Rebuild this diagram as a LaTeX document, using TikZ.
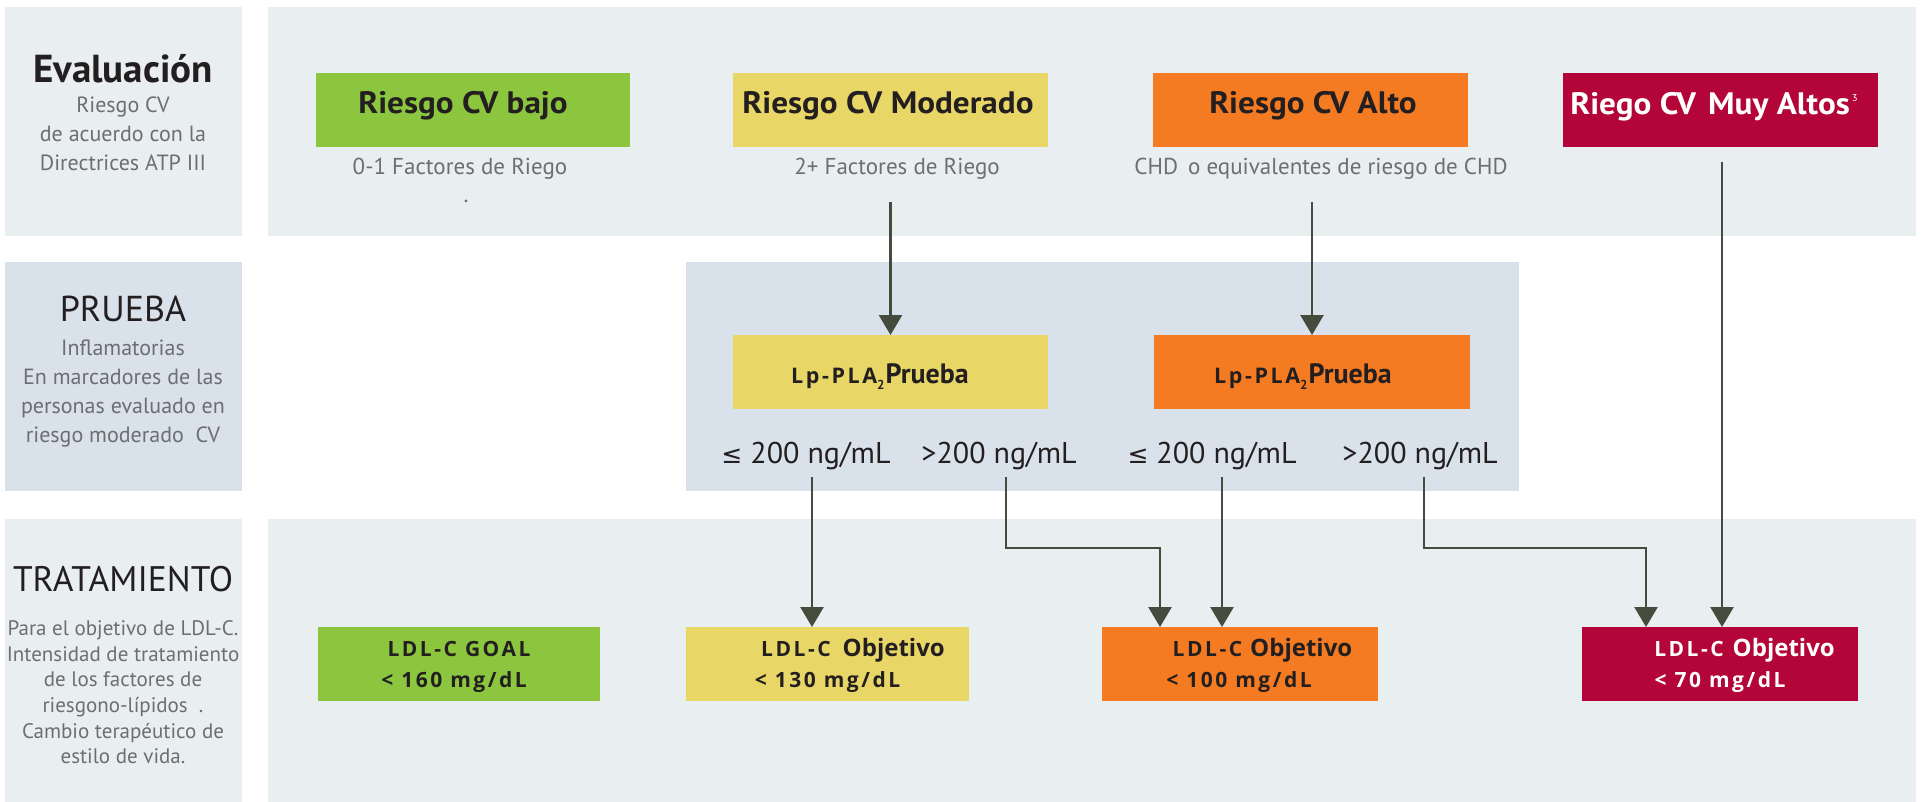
\documentclass[tikz,border=0pt]{standalone}
\usepackage{fontspec}
\setmainfont{PT Sans}
\newfontfamily\headfont[FakeStretch=1.07]{PT Sans}
\newfontfamily\ldlfont[LetterSpace=12]{Open Sans}
\newfontfamily\objfont{Open Sans}
\newfontfamily\symfont{DejaVu Sans}
\usetikzlibrary{arrows.meta}
\newcommand\setfs[2]{\fontsize{#1}{#2}\selectfont}
\definecolor{panel}{HTML}{E9EEF1}
\definecolor{panelB}{HTML}{D9E1EA}
\definecolor{cgreen}{HTML}{8CC63F}
\definecolor{cyellow}{HTML}{E8D666}
\definecolor{corange}{HTML}{F47B22}
\definecolor{cred}{HTML}{B30537}
\definecolor{ink}{HTML}{231F20}
\definecolor{txtgray}{HTML}{6D6E71}
\definecolor{arrowc}{HTML}{454C3D}
\tikzset{
  arr/.style={draw=arrowc, line width=2.6pt, line join=miter, -{Triangle[width=23pt,length=20pt]}},
  boxst/.style={minimum height=74pt, inner sep=0pt, outer sep=0pt},
  txt/.style={inner sep=0pt, outer sep=0pt, anchor=base},
  lefthead/.style={txt, font=\setfs{36}{40}, text=ink},
  leftsub/.style={txt, font=\setfs{22}{26}, text=txtgray},
  toplbl/.style={txt, font=\headfont\setfs{31}{34}\bfseries, text=ink},
  sublbl/.style={txt, font=\setfs{23}{26}, text=txtgray},
  thr/.style={txt, font=\setfs{30}{34}, text=ink},
  ldl/.style={txt, font=\ldlfont\bfseries\setfs{21}{24}, text=ink},
  lpl/.style={txt, font=\setfs{28}{30}\bfseries, text=ink}
}
\newcommand\objw{{\objfont\bfseries\setfs{24}{26}Objetivo}}
\newcommand\lpw{{\ldlfont\bfseries\setfs{21.5}{24}Lp-PLA}\raisebox{-6pt}{\setfs{13}{13}\bfseries 2}\hspace{1pt}Prueba}
\newcommand\lea{{\symfont\setfs{25}{28}≤}}
\begin{document}
\begin{tikzpicture}[x=1pt,y=-1pt]
\useasboundingbox (0,0) rectangle (1921,802);
\fill[white] (0,0) rectangle (1921,802);
% bands
\fill[panel] (5,7) rectangle (242,236);
\fill[panel] (268,7) rectangle (1916,236);
\fill[panelB] (5,262) rectangle (242,491);
\fill[panelB] (686,262) rectangle (1519,491);
\fill[panel] (5,519) rectangle (242,802);
\fill[panel] (268,519) rectangle (1916,802);
% left column texts
\node[lefthead, font=\setfs{39}{42}\bfseries] (evh) at (123,83) {Evaluación};
\node[leftsub] (ev1) at (123,113) {Riesgo CV};
\node[leftsub] (ev2) at (123,142) {de acuerdo con la};
\node[leftsub] (ev3) at (123,171) {Directrices ATP III};
\node[lefthead, font=\setfs{36}{40}] (prh) at (123,321) {PRUEBA};
\node[leftsub] (pr1) at (123,355) {Inflamatorias};
\node[leftsub] (pr2) at (123,384) {En marcadores de las};
\node[leftsub] (pr3) at (123,413) {personas evaluado en};
\node[leftsub] (pr4) at (123,442) {riesgo moderado\ \ CV};
\node[lefthead, font=\setfs{35.5}{40}] (trh) at (123,591) {TRATAMIENTO};
\node[leftsub, font=\setfs{21}{24}] (tr1) at (123,635) {Para el objetivo de LDL-C.};
\node[leftsub, font=\setfs{21}{24}] (tr2) at (123,661) {Intensidad de tratamiento};
\node[leftsub, font=\setfs{21}{24}] (tr3) at (123,686) {de los factores de};
\node[leftsub, font=\setfs{21}{24}] (tr4) at (123,712) {riesgono-lípidos\ \ .};
\node[leftsub, font=\setfs{21}{24}] (tr5) at (123,738) {Cambio terapéutico de};
\node[leftsub, font=\setfs{21}{24}] (tr6) at (123,763) {estilo de vida.};
% top risk boxes
\node[boxst, fill=cgreen, minimum width=314pt] (g1) at (473,110) {};
\node[boxst, fill=cyellow, minimum width=315pt] (y1) at (890.5,110) {};
\node[boxst, fill=corange, minimum width=315pt] (o1) at (1310.5,110) {};
\node[boxst, fill=cred, minimum width=315pt] (r1) at (1720.5,110) {};
\node[toplbl] (g1t) at (463,114) {Riesgo CV bajo};
\node[toplbl] (y1t) at (888,114) {Riesgo CV Moderado};
\node[toplbl] (o1t) at (1313,114) {Riesgo CV Alto};
\node[toplbl, text=white] (r1t) at (1714,115) {Riego CV\hspace{12pt}Muy Altos\hspace{2pt}\raisebox{13pt}{\mdseries\setfs{10}{10}3}};
\node[sublbl] (g1s) at (460,175) {0-1 Factores de Riego};
\node[sublbl] (g1d) at (466,203) {.};
\node[sublbl] (y1s) at (897,175) {2+ Factores de Riego};
\node[sublbl] (o1s) at (1321,175) {CHD\hspace{10pt}o equivalentes de riesgo de CHD};
% test boxes
\node[boxst, fill=cyellow, minimum width=315pt] (lp1) at (890.5,372) {};
\node[boxst, fill=corange, minimum width=316pt] (lp2) at (1312,372) {};
\node[lpl] (lp1t) at (880,383) {\lpw};
\node[lpl] (lp2t) at (1303,383) {\lpw};
\node[thr] (th1) at (806,463) {\lea\ 200 ng/mL};
\node[thr] (th2) at (999,463) {>200 ng/mL};
\node[thr] (th3) at (1212,463) {\lea\ 200 ng/mL};
\node[thr] (th4) at (1420,463) {>200 ng/mL};
% LDL goal boxes
\node[boxst, fill=cgreen, minimum width=282pt] (l1) at (459,664) {};
\node[boxst, fill=cyellow, minimum width=283pt] (l2) at (827.5,664) {};
\node[boxst, fill=corange, minimum width=276pt] (l3) at (1240,664) {};
\node[boxst, fill=cred, minimum width=276pt] (l4) at (1720,664) {};
\node[ldl] (l1a) at (459,656) {LDL-C GOAL};
\node[ldl] (l1b) at (454,687) {< 160 mg/dL};
\node[ldl] (l2a) at (853,656) {LDL-C\hspace{12pt}\objw};
\node[ldl] (l2b) at (827.5,687) {< 130 mg/dL};
\node[ldl] (l3a) at (1262.5,656) {LDL-C\hspace{8pt}\objw};
\node[ldl] (l3b) at (1239,687) {< 100 mg/dL};
\node[ldl, text=white] (l4a) at (1744.5,656) {LDL-C\hspace{9pt}\objw};
\node[ldl, text=white] (l4b) at (1720,687) {< 70 mg/dL};
% connectors
\coordinate (a1) at (890.5,202);
\coordinate (a2) at (1312,202);
\coordinate (a3) at (1722,162);
\coordinate (t1) at (812,477);
\coordinate (t2) at (1006,477);
\coordinate (k2) at (1160,548);
\coordinate (t3) at (1222,477);
\coordinate (t4) at (1424,477);
\coordinate (k4) at (1646,548);
\draw[arr] (a1) -- (lp1.north);
\draw[arr] (a2) -- (a2 |- lp2.north);
\draw[arr] (a3) -- (a3 |- l4.north);
\draw[arr] (t1) -- (t1 |- l2.north);
\draw[arr] (t2) |- (k2) -- (k2 |- l3.north);
\draw[arr] (t3) -- (t3 |- l3.north);
\draw[arr] (t4) |- (k4) -- (k4 |- l4.north);
\end{tikzpicture}
\end{document}
